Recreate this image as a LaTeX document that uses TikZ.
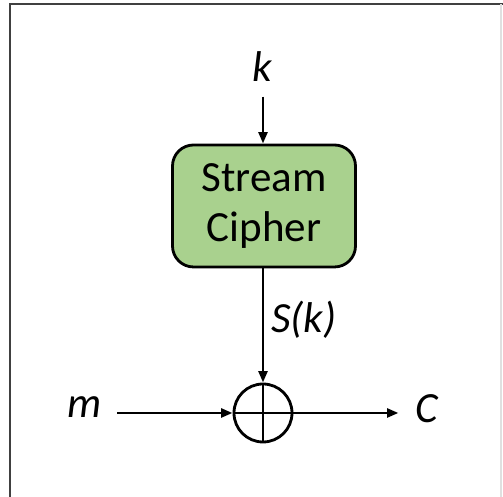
\documentclass[tikz,border=0pt]{standalone}
\usepackage{fontspec}
\setmainfont{Carlito}
\usetikzlibrary{arrows.meta}
\definecolor{ciphergreen}{HTML}{A9D18E}
\begin{document}
\begin{tikzpicture}[
  sig/.style={line width=1.6pt,-{Triangle[length=6.5pt,width=5pt]}},
  var/.style={font=\fontsize{24.5}{29}\selectfont\itshape},
  cipherbox/.style={draw,line width=1.6pt,fill=ciphergreen,rounded corners=0.42cm,minimum width=3.66cm,minimum height=2.44cm,align=center,font=\fontsize{24.5}{29}\selectfont}
]
\useasboundingbox (0,0) rectangle (10.06,9.94);
\draw[line width=1pt,black!75] (0.2,0) -- (0.2,9.86) -- (10.06,9.86); %frame
\draw[line width=0.6pt,black!12] (10.02,0) -- (10.02,9.86);
\node[var] (k) at (5.24,8.60) {k};
\node[cipherbox] (sc) at (5.28,5.82) {Stream\\Cipher};
\node[draw,circle,line width=1.6pt,minimum size=1.16cm,inner sep=0pt] (xor) at (5.26,1.68) {};
\draw[line width=1.6pt] (xor.north) -- (xor.south);
\draw[line width=1.6pt] (xor.west) -- (xor.east);
\node[var] (m) at (1.70,1.80) {m};
\node[var] (c) at (8.54,1.76) {C};
\draw[sig,shorten <=0.17cm] (k.south -| xor.north) -- (sc.north -| xor.north);
\draw[sig] (sc.south -| xor.north) -- node[var,right,pos=0.45,inner sep=4pt] {S(k)} (xor.north);
\draw[sig,shorten <=0.18cm] (m.east |- xor.west) -- (xor.west);
\draw[sig,shorten >=0.22cm] (xor.east) -- (c.west |- xor.east);
\end{tikzpicture}
\end{document}
